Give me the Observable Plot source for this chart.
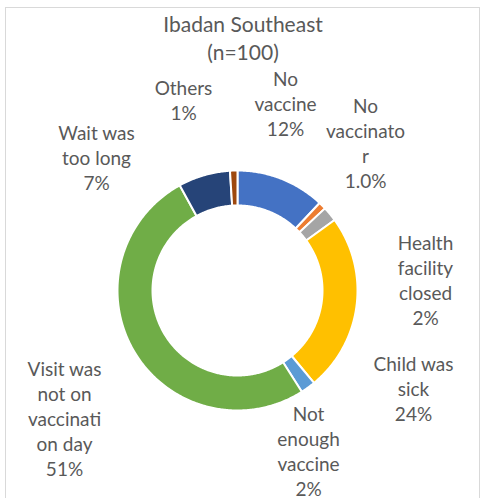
<!DOCTYPE html>
<html><head><meta charset="utf-8">
<script src="https://cdn.jsdelivr.net/npm/d3@7"></script>
<script src="https://cdn.jsdelivr.net/npm/@observablehq/plot@0.6"></script>
<style>
body{margin:0;background:#fff;}
#wrap{position:relative;width:480px;height:498px;overflow:hidden;font-family:Lato,sans-serif;}
#frame{position:absolute;left:5px;top:7px;width:475px;height:520px;border:1px solid #d9d9d9;box-sizing:border-box;}
#title{position:absolute;left:0;width:486px;top:10px;text-align:center;color:#595959;font-size:21px;line-height:28px;}
#chart{position:absolute;left:0;top:0;}
</style></head><body>
<div id="wrap"><div id="frame"></div><div id="title">Ibadan Southeast<br>(n=100)</div><div id="chart"></div></div>
<script>
// Data
const categories = ["No vaccine","No vaccinator","Health facility closed","Child was sick","Not enough vaccine","Visit was not on vaccination day","Wait was too long","Others"];
const values = [12, 1, 2, 24, 2, 51, 7, 1];
const valueLabels = ["12%","1.0%","2%","24%","2%","51%","7%","1%"];
const labelLines = ["No\nvaccine","No\nvaccinato\nr","Health\nfacility\nclosed","Child was\nsick","Not\nenough\nvaccine","Visit was\nnot on\nvaccinati\non day","Wait was\ntoo long","Others"];

// Styles / layout
const colors = ["#4472C4","#ED7D31","#A5A5A5","#FFC000","#5B9BD5","#70AD47","#264478","#9E480E"];
const W = 480, H = 498, CX = 237, CY = 290, RPX = 120;
const inner = 85 / RPX;
// label block centers in pixels
const labelPos = [[285,102],[365,141.5],[425,278.5],[413,387],[308,449.5],[64,417.5],[96,156],[183,98.5]];

const pie = d3.pie().sort(null).value(d => d)(values);
const pts = [];
pie.forEach((p, i) => {
  const a0 = p.startAngle, a1 = p.endAngle;
  const n = Math.max(2, Math.ceil((a1 - a0) / 0.01));
  const ring = [];
  for (let k = 0; k <= n; k++) { const a = a0 + (a1 - a0) * k / n; ring.push([Math.sin(a), Math.cos(a)]); }
  for (let k = n; k >= 0; k--) { const a = a0 + (a1 - a0) * k / n; ring.push([inner * Math.sin(a), inner * Math.cos(a)]); }
  ring.push(ring[0]);
  ring.forEach(([x, y]) => pts.push({cat: categories[i], x, y}));
});

const labels = categories.map((c, i) => ({
  text: labelLines[i] + "\n" + valueLabels[i],
  x: (labelPos[i][0] - CX) / RPX,
  y: (CY - labelPos[i][1]) / RPX
}));

const chart = Plot.plot({
  width: W, height: H, margin: 0,
  style: {background: "transparent", overflow: "visible"},
  x: {domain: [(0 - CX) / RPX, (W - CX) / RPX], axis: null},
  y: {domain: [(CY - H) / RPX, CY / RPX], axis: null},
  color: {domain: categories, range: colors},
  marks: [
    Plot.line(pts, {x: "x", y: "y", z: "cat", fill: "cat", stroke: "white", strokeWidth: 2, curve: "linear"}),
    Plot.text(labels, {x: "x", y: "y", text: "text", fill: "#595959", fontSize: 19, lineHeight: 25/19, fontFamily: "Lato, sans-serif"})
  ]
});
document.getElementById("chart").appendChild(chart);
</script>
</body></html>
